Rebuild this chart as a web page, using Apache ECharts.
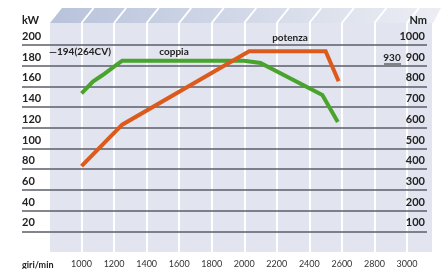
<!DOCTYPE html>
<html>
<head>
<meta charset="utf-8">
<script src="https://cdn.jsdelivr.net/npm/echarts@6/dist/echarts.min.js"></script>
<style>
  html, body { margin: 0; padding: 0; background: #fff; }
  #chart { width: 441px; height: 269px; }
</style>
</head>
<body>
<div id="chart"></div>
<script>
// dati curva potenza (kW) e coppia (Nm)
const powerRpm = [1000, 1250, 2030, 2500, 2580];
const powerKw = [83, 123, 194, 194, 165];
const torqueRpm = [1000, 1070, 1130, 1200, 1250, 2000, 2100, 2480, 2575];
const torqueNm = [766, 823, 855, 895, 924, 924, 913, 758, 628];
const rpmTicks = [1000, 1200, 1400, 1600, 1800, 2000, 2200, 2400, 2600, 2800, 3000];

const FONT = 'Lato, "Open Sans", sans-serif';
const chart = echarts.init(document.getElementById('chart'));

const toPairs = (xs, ys) => xs.map((x, i) => [x, ys[i]]);

const option = {
  animation: false,
  grid: [
    // sfondo
    { left: 49, right: 8, top: 23, bottom: 17, show: true, backgroundColor: '#e2e4ef', borderWidth: 0 },
    // linee orizzontali
    { left: 22, right: 14, top: 45, bottom: 17 },
    // curve
    { left: 49, right: 8, top: 45, bottom: 17 }
  ],
  xAxis: [
    {
      gridIndex: 0, type: 'value', min: 800, max: 3160, interval: 200,
      axisLine: { show: false }, axisTick: { show: false },
      splitLine: { show: true, lineStyle: { color: '#ffffff', width: 2 } },
      axisLabel: {
        margin: 8, color: '#333', fontFamily: FONT, fontSize: 9,
        formatter: v => (rpmTicks.indexOf(v) >= 0 ? String(v) : '')
      }
    },
    { gridIndex: 1, type: 'value', min: 0, max: 1, show: false },
    { gridIndex: 2, type: 'value', min: 800, max: 3160, show: false }
  ],
  yAxis: [
    { gridIndex: 0, type: 'value', min: 0, max: 1, show: false },
    {
      gridIndex: 1, type: 'value', min: 0, max: 200, interval: 20, position: 'left', z: 2,
      axisLine: { show: false }, axisTick: { show: false },
      splitLine: { show: true, showMinLine: false, lineStyle: { color: '#5b5e68', width: 1.6 } },
      axisLabel: {
        inside: true, margin: 0, verticalAlign: 'bottom', padding: [0, 0, 3, 0],
        color: '#222', fontFamily: FONT, fontWeight: 'bold', fontSize: 11,
        formatter: v => (v === 0 ? '' : String(v))
      }
    },
    {
      gridIndex: 1, type: 'value', min: 0, max: 1000, interval: 100, position: 'right', z: 2,
      axisLine: { show: false }, axisTick: { show: false }, splitLine: { show: false },
      axisLabel: {
        inside: true, margin: 2, verticalAlign: 'bottom', padding: [0, 0, 3, 0],
        color: '#222', fontFamily: FONT, fontWeight: 'bold', fontSize: 11,
        formatter: v => (v === 0 ? '' : String(v))
      }
    },
    { gridIndex: 2, type: 'value', min: 0, max: 200, show: false },
    { gridIndex: 2, type: 'value', min: 0, max: 1000, show: false }
  ],
  series: [
    {
      name: 'potenza', type: 'line', xAxisIndex: 2, yAxisIndex: 3, z: 5,
      data: toPairs(powerRpm, powerKw), symbol: 'none',
      lineStyle: { color: '#dc5a1c', width: 4, join: 'miter' }
    },
    {
      name: 'coppia', type: 'line', xAxisIndex: 2, yAxisIndex: 4, z: 4,
      data: toPairs(torqueRpm, torqueNm), symbol: 'none',
      lineStyle: { color: '#48a42c', width: 4, join: 'miter' }
    }
  ]
};
chart.setOption(option);

// fascia prospettica superiore e testi
const tickPx = rpmTicks.map(v => chart.convertToPixel({ xAxisIndex: 0 }, v));
const stripes = tickPx.map(px => ({
  type: 'line', z: 1,
  shape: { x1: px, y1: 23, x2: px + 12, y2: 8 },
  style: { stroke: '#ffffff', lineWidth: 2 }
}));
const textStyle = (text, x, y, align, size, weight) => ({
  type: 'text', x: x, y: y, z: 10,
  style: { text: text, fill: '#222', font: (weight || 'bold') + ' ' + size + 'px ' + FONT, align: align, verticalAlign: 'middle' }
});

chart.setOption({
  graphic: [
    {
      type: 'polygon', z: 0,
      shape: { points: [[50, 23], [62, 8], [441, 8], [433, 23]] },
      style: {
        fill: new echarts.graphic.LinearGradient(0, 0, 1, 0, [
          { offset: 0, color: '#b8c3db' },
          { offset: 1, color: '#eceef4' }
        ])
      }
    },
    ...stripes,
    textStyle('kW', 22, 20, 'left', 11),
    textStyle('Nm', 427, 20, 'right', 11),
    textStyle('potenza', 290, 38, 'center', 10),
    textStyle('coppia', 174, 52, 'center', 10),
    textStyle('\u2014194(264CV)', 49, 52, 'left', 10),
    textStyle('930', 392, 58, 'center', 10),
    { type: 'line', z: 10, shape: { x1: 384, y1: 64, x2: 401, y2: 64 }, style: { stroke: '#222', lineWidth: 1 } },
    textStyle('giri/min', 22, 265, 'left', 9)
  ]
});
</script>
</body>
</html>
